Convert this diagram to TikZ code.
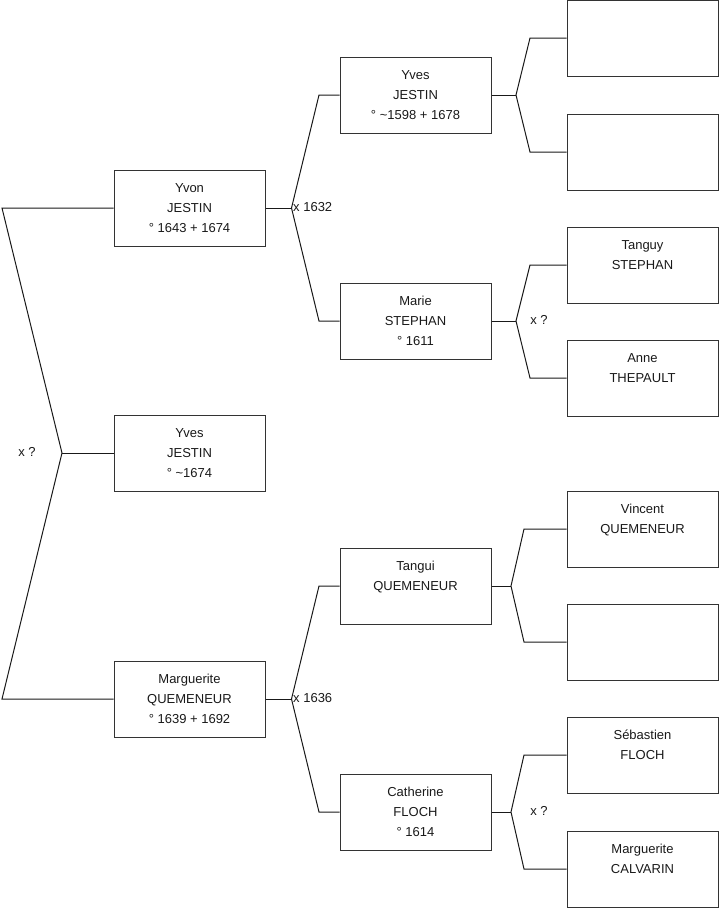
\documentclass[tikz,border=0pt]{standalone}
\usepackage{fontspec}
\setmainfont{Liberation Sans}
\newcommand{\ppl}[3]{\strut #1\\\strut #2\\\strut #3}
\begin{document}
\begin{tikzpicture}[x=1pt,y=-1pt,
  person/.style={draw=black!80,line width=1pt,minimum width=151pt,minimum height=76pt,
    inner sep=0pt,align=center,font=\fontsize{13}{20}\selectfont,text=black!90},
  link/.style={draw=black!90,line width=1pt,line join=miter},
  lbl/.style={font=\fontsize{13}{20}\selectfont,inner sep=0pt,text=black!90}]
\useasboundingbox (0,0) rectangle (719,908);

% generation 1
\node[person] (y1) at (189.5,208) {\ppl{Yvon}{JESTIN}{° 1643 + 1674}};
\node[person] (y2) at (189.5,453) {\ppl{Yves}{JESTIN}{° \textasciitilde1674}};
\node[person] (y3) at (189.5,699) {\ppl{Marguerite}{QUEMENEUR}{° 1639 + 1692}};
% generation 2
\node[person] (p2a) at (415.5,95) {\ppl{Yves}{JESTIN}{° \textasciitilde1598 + 1678}};
\node[person] (p2b) at (415.5,321) {\ppl{Marie}{STEPHAN}{° 1611}};
\node[person] (p2c) at (415.5,586) {\ppl{Tangui}{QUEMENEUR}{}};
\node[person] (p2d) at (415.5,812) {\ppl{Catherine}{FLOCH}{° 1614}};
% generation 3
\node[person] (p3a) at (642.5,38) {\ppl{}{}{}};
\node[person] (p3b) at (642.5,152) {\ppl{}{}{}};
\node[person] (p3c) at (642.5,265) {\ppl{Tanguy}{STEPHAN}{}};
\node[person] (p3d) at (642.5,378) {\ppl{Anne}{THEPAULT}{}};
\node[person] (p3e) at (642.5,529) {\ppl{Vincent}{QUEMENEUR}{}};
\node[person] (p3f) at (642.5,642) {\ppl{}{}{}};
\node[person] (p3g) at (642.5,755) {\ppl{Sébastien}{FLOCH}{}};
\node[person] (p3h) at (642.5,869) {\ppl{Marguerite}{CALVARIN}{}};

% fork points
\coordinate (r0) at (62,453);
\coordinate (r0a) at (2,208);
\coordinate (r0b) at (2,699);
\coordinate (f1) at (291.5,208);
\coordinate (f1a) at (319,95);
\coordinate (f1b) at (319,321);
\coordinate (f6) at (291.5,699);
\coordinate (f6a) at (319,586);
\coordinate (f6b) at (319,812);
\coordinate (f2) at (516,95);
\coordinate (f2a) at (530,38);
\coordinate (f2b) at (530,152);
\coordinate (f3) at (516,321);
\coordinate (f3a) at (530,265);
\coordinate (f3b) at (530,378);
\coordinate (f4) at (511,586);
\coordinate (f4a) at (524,529);
\coordinate (f4b) at (524,642);
\coordinate (f5) at (511,812);
\coordinate (f5a) at (524,755);
\coordinate (f5b) at (524,869);

% connectors
\draw[link] (y1.west) -- (r0a) -- (r0) -- (r0b) -- (y3.west);
\draw[link] (r0) -- (y2.west);
\draw[link] (y1.east) -- (f1);
\draw[link] (p2a.west) -- (f1a) -- (f1) -- (f1b) -- (p2b.west);
\draw[link] (y3.east) -- (f6);
\draw[link] (p2c.west) -- (f6a) -- (f6) -- (f6b) -- (p2d.west);
\draw[link] (p2a.east) -- (f2);
\draw[link] (p3a.west) -- (f2a) -- (f2) -- (f2b) -- (p3b.west);
\draw[link] (p2b.east) -- (f3);
\draw[link] (p3c.west) -- (f3a) -- (f3) -- (f3b) -- (p3d.west);
\draw[link] (p2c.east) -- (f4);
\draw[link] (p3e.west) -- (f4a) -- (f4) -- (f4b) -- (p3f.west);
\draw[link] (p2d.east) -- (f5);
\draw[link] (p3g.west) -- (f5a) -- (f5) -- (f5b) -- (p3h.west);

% marriage labels
\node[lbl,anchor=center] (m0) at (27,452) {x ?};
\node[lbl,anchor=west] (m1) at (293,207) {x 1632};
\node[lbl,anchor=west] (m6) at (293,698) {x 1636};
\node[lbl,anchor=center] (m3) at (539,320) {x ?};
\node[lbl,anchor=center] (m5) at (539,811) {x ?};
\end{tikzpicture}
\end{document}
